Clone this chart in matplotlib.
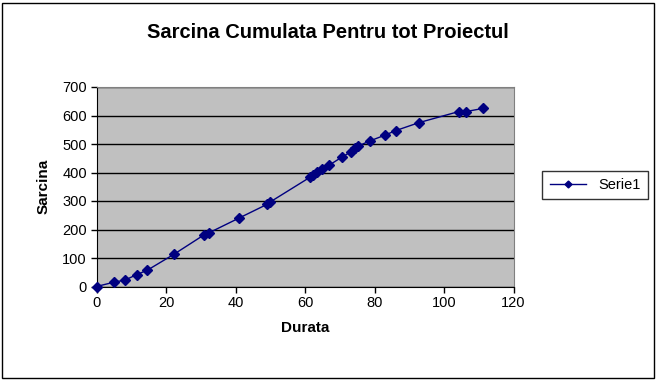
import matplotlib
matplotlib.use('Agg')
import matplotlib.pyplot as plt
from matplotlib.patches import Rectangle

plt.rcParams.update({
    'font.family': 'sans-serif',
    'font.sans-serif': ['Liberation Sans', 'DejaVu Sans'],
    'font.size': 10,
})

durata = [0, 5.0, 8.3, 11.6, 14.6, 22.4, 30.8, 32.3, 41.0, 49.2, 49.9, 61.4, 62.3,
          63.5, 65.0, 67.0, 70.6, 73.2, 74.5, 75.3, 78.7, 83.0, 86.1, 92.8, 104.3,
          106.4, 111.3]
sarcina = [0, 15, 23, 42, 57, 114, 180, 188, 240, 289, 296, 383, 391, 401, 413,
           426, 454, 472, 486, 493, 511, 531, 547, 575, 614, 614, 625]
x_ticks = [0, 20, 40, 60, 80, 100, 120]
y_ticks = [0, 100, 200, 300, 400, 500, 600, 700]

W, H = 658, 381
fig = plt.figure(figsize=(W / 100, H / 100), dpi=100)
fig.patch.set_facecolor('white')

# outer chart border
fig.patches.append(Rectangle((2 / W, 3 / H), 652 / W, 375 / H, transform=fig.transFigure,
                             fill=False, edgecolor='black', linewidth=1))

ax = fig.add_axes([96.5 / W, (H - 286.5) / H, 417 / W, 199.5 / H])
ax.set_facecolor('#C0C0C0')
ax.plot(durata, sarcina, color='#000080', linewidth=1, marker='D', markersize=5,
        markerfacecolor='#000080', markeredgecolor='#000080', label='Serie1',
        clip_on=False, zorder=3)

ax.set_xlim(0, 120)
ax.set_ylim(0, 700)
ax.set_xticks(x_ticks)
ax.set_yticks(y_ticks)
ax.grid(axis='y', color='black', linewidth=1)
ax.set_axisbelow(True)
for s in ['top', 'right']:
    ax.spines[s].set_color('#808080')
for s in ['left', 'bottom']:
    ax.spines[s].set_color('black')
ax.tick_params(direction='out', length=4, width=1, labelsize=10.5, colors='black', pad=3)

ax.set_xlabel('Durata', fontsize=11, fontweight='bold', labelpad=8)
ax.set_ylabel('Sarcina', fontsize=11, fontweight='bold', labelpad=8)

fig.text(328 / W, 1 - 32 / H, 'Sarcina Cumulata Pentru tot Proiectul', fontsize=14.5,
         fontweight='bold', ha='center', va='center')

leg = fig.legend(loc='center', bbox_to_anchor=(595 / W, 1 - 185 / H), frameon=True,
                 fancybox=False, edgecolor='black', fontsize=10.5, handlelength=2.5,
                 borderpad=0.5, markerscale=0.7)
leg.get_frame().set_linewidth(1)

fig.savefig('out.png', dpi=100, facecolor='white')
